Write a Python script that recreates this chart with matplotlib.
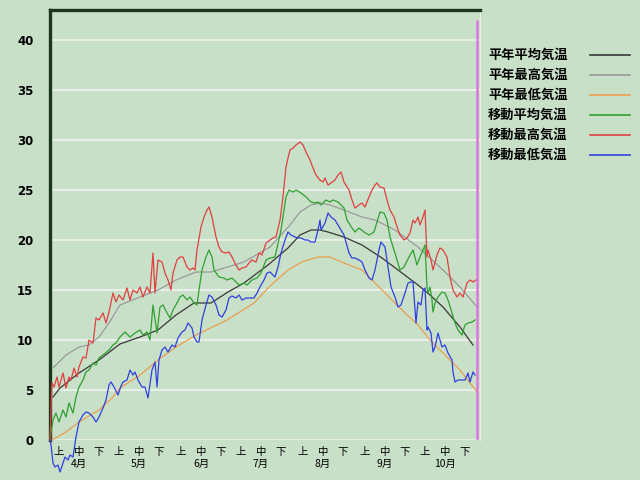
import matplotlib
matplotlib.use('Agg')
import matplotlib.pyplot as plt
from matplotlib.lines import Line2D

plt.rcParams['font.family'] = ['Noto Sans CJK JP', 'DejaVu Sans']

# day 0 = 4/1
months = [4, 5, 6, 7, 8, 9, 10]
month_start = [0, 30, 61, 91, 122, 153, 183]
today = 213.5

# 平年値
avg_days = [1.5, 5, 14.5, 24.5, 35, 45, 54, 63, 72, 80.5, 89, 97, 109, 119, 125, 130.5,
            135, 139, 147, 156, 166, 176, 184, 190, 196.5, 205, 211.5]
avg_vals = [4.3, 5.2, 6.7, 8.0, 9.6, 10.3, 11.0, 12.5, 13.7, 13.7, 14.8, 15.7, 17.5, 19.2,
            20.5, 21.0, 21.0, 20.8, 20.3, 19.5, 18.2, 16.7, 15.5, 14.5, 13.3, 11.3, 9.5]

max_days = [1.5, 8, 14.5, 19.5, 24.5, 29.5, 35, 45, 54, 63, 73, 80.5, 97, 110, 120, 125,
            130.5, 135, 140, 147, 156, 162.5, 172.5, 184, 190, 196.5, 205, 213.5]
max_vals = [7.2, 8.5, 9.3, 9.5, 10.3, 11.7, 13.5, 14.3, 15.0, 16.0, 16.8, 16.8, 17.8, 19.3,
            21.5, 22.8, 23.5, 23.7, 23.5, 23.0, 22.3, 22.0, 21.0, 19.3, 18.2, 17.0, 15.3, 13.3]

min_days = [1, 8, 14.5, 24.5, 31.5, 35, 45, 54, 63, 73, 88.5, 102, 110, 119, 126, 134,
            140, 147, 156, 161, 167.5, 176, 184, 190, 196.5, 205, 213.5]
min_vals = [0.0, 0.8, 1.8, 3.0, 4.3, 5.2, 6.5, 8.0, 9.3, 10.5, 12.0, 13.7, 15.4, 17.0, 17.8,
            18.3, 18.3, 17.7, 17.0, 16.0, 14.7, 13.0, 11.5, 10.0, 8.7, 7.0, 4.8]

# 移動値
mavg_days = [0, 1.5, 3, 4.5, 6.5, 8, 9.5, 11.5, 13, 14.5, 16.5, 18, 19.5, 21.5, 23, 24.5,
             26.5, 29.5, 31.5, 33, 35, 37.5, 40, 42.5, 45, 46.5, 48.5, 50, 51.5, 53.5, 55,
             56.5, 58.5, 60, 61.5, 63.5, 65, 66.5, 68.5, 70, 72, 73.5, 74.5, 76, 78, 79.5,
             81, 82, 84.5, 87, 88.5, 91, 93, 94.5, 97, 98.5, 101, 103.5, 105.5, 108, 110,
             112.5, 115.5, 118, 119.5, 121.5, 123, 125.5, 128, 130.5, 132.5, 134, 135.5,
             138, 140, 141.5, 144, 145.5, 147, 148.5, 151, 152.5, 154.5, 157, 159.5, 162,
             163.5, 165, 167, 168.5, 170, 172, 173.5, 175, 177, 179.5, 181.5, 183.5, 185,
             186.5, 187.5, 188.5, 189, 190, 191, 191.5, 192.5, 194, 196, 197.5, 199, 201,
             202.5, 204, 206, 207.5, 209, 211, 212.5]
mavg_vals = [0, 2.0, 2.7, 1.8, 3.0, 2.3, 3.7, 2.7, 4.3, 5.3, 6.0, 6.8, 7.0, 7.7, 7.5, 8.2,
             8.5, 9.0, 9.5, 9.7, 10.3, 10.8, 10.3, 10.7, 11.0, 10.5, 10.8, 10.0, 13.5, 10.7,
             13.3, 13.5, 12.7, 12.2, 13.0, 13.7, 14.3, 14.5, 14.0, 14.3, 13.7, 13.5, 15.0,
             17.0, 18.3, 19.0, 18.3, 17.0, 16.3, 16.2, 16.0, 16.2, 15.8, 15.5, 15.7, 15.5,
             16.0, 16.2, 16.7, 18.0, 18.2, 18.3, 21.0, 24.3, 25.0, 24.8, 25.0, 24.7, 24.3,
             23.8, 23.7, 23.8, 23.5, 24.0, 23.8, 24.0, 23.8, 23.5, 23.2, 22.0, 21.2, 20.8,
             21.2, 20.8, 20.5, 20.8, 21.8, 22.8, 22.7, 22.0, 20.3, 19.0, 18.0, 17.0, 17.3,
             18.3, 19.0, 17.5, 18.3, 19.0, 19.5, 15.3, 14.7, 15.3, 14.0, 12.8, 13.7, 14.3,
             14.8, 14.7, 14.0, 12.7, 11.7, 11.0, 10.5, 11.5, 11.7, 11.8, 12.0]

mmax_days = [0, 1, 2, 3.5, 4.5, 6.5, 8, 9.5, 10.5, 12, 13.5, 14.5, 16.5, 18, 19.5, 21.5,
             23, 24.5, 26.5, 28, 29.5, 31.5, 33, 34.5, 36.5, 38.5, 40, 41.5, 43.5, 45, 46.5,
             48.5, 50, 51.5, 52.5, 54, 56, 57.5, 59, 60.5, 61.5, 63.5, 65, 66.5, 68.5, 70,
             71.5, 72.5, 73.5, 75.5, 77, 78.5, 79.5, 81, 83, 84.5, 86, 88, 89.5, 91, 93,
             94.5, 96, 98, 99.5, 101, 103, 104.5, 106, 108, 110, 111.5, 113, 115, 116.5,
             118, 119, 120, 121.5, 123, 125, 126.5, 128, 130, 131.5, 133, 135, 136.5, 137.5,
             139, 140.5, 142.5, 144, 145.5, 147, 149.5, 151, 152.5, 154.5, 156, 157.5,
             159.5, 161, 162.5, 163.5, 165, 167, 168.5, 170, 172, 173.5, 175, 177, 178.5,
             180, 181.5, 182.5, 184, 185, 186.5, 187.5, 188.5, 189, 190.5, 191.5, 193.5,
             195, 196.5, 198.5, 200, 201.5, 203.5, 205, 206.5, 208.5, 210, 211.5, 213]
mmax_vals = [0, 5.7, 5.3, 6.3, 5.3, 6.7, 5.2, 6.3, 6.0, 7.2, 6.3, 7.3, 8.3, 8.2, 10.0, 9.7,
             12.2, 12.0, 12.7, 11.7, 12.8, 14.7, 13.8, 14.5, 14.0, 15.2, 14.0, 15.0, 14.7,
             15.3, 14.3, 15.3, 14.7, 18.7, 14.7, 18.0, 17.8, 16.7, 16.0, 15.0, 16.7, 18.0,
             18.3, 18.3, 17.3, 17.0, 17.2, 17.0, 19.0, 21.3, 22.3, 23.0, 23.3, 22.3, 20.3,
             19.3, 18.8, 18.7, 18.8, 18.3, 17.5, 17.0, 17.2, 17.3, 17.7, 18.0, 17.8, 18.7,
             18.5, 19.7, 20.0, 20.2, 20.3, 22.0, 24.3, 27.3, 28.2, 29.0, 29.2, 29.5, 29.8,
             29.5, 28.8, 28.0, 27.2, 26.5, 26.0, 25.8, 26.2, 25.5, 25.7, 26.0, 26.5, 26.8,
             25.8, 25.0, 24.0, 23.2, 23.5, 23.7, 23.3, 24.3, 25.0, 25.5, 25.7, 25.3, 25.2,
             24.0, 23.0, 22.3, 21.3, 20.5, 20.0, 20.2, 20.7, 22.0, 21.7, 22.3, 21.5, 22.3,
             23.0, 18.3, 19.0, 18.0, 17.0, 18.5, 19.2, 19.0, 18.3, 16.3, 15.0, 14.3, 14.7,
             14.3, 15.7, 16.0, 15.8, 16.0]

mmin_days = [0, 0.5, 1.5, 2.5, 4, 5, 6.5, 7.5, 9, 10, 11.5, 13, 14.5, 16.5, 18, 19.5, 21.5,
             23, 24.5, 26.5, 28, 29.5, 30.5, 32, 34, 35.5, 36.5, 38.5, 40, 41.5, 42.5, 44,
             46, 47.5, 49, 51, 52.5, 53.5, 54.5, 56, 57.5, 59, 61, 62.5, 64, 66, 67.5, 69,
             71, 72, 73.5, 74.5, 76, 78, 79.5, 81, 83, 84.5, 86, 88, 89.5, 91, 93, 94.5, 96,
             98, 100.5, 102, 103.5, 105.5, 107, 108.5, 110, 112.5, 114, 115.5, 117.5, 119,
             120.5, 122.5, 124, 125.5, 127.5, 129, 130.5, 132.5, 134, 135, 135.5, 137.5,
             139, 140.5, 142.5, 144, 145.5, 147, 149.5, 151, 152.5, 154.5, 156, 157.5,
             159.5, 161, 162.5, 164.5, 165.5, 167.5, 169, 170.5, 172.5, 174, 175.5, 177.5,
             179, 180.5, 181.5, 183, 184, 185.5, 186.5, 187.5, 188.5, 189, 190.5, 191.5,
             192.5, 194, 196, 197.5, 199, 201, 201.5, 202.5, 204, 206, 207.5, 209, 210,
             211.5, 212.5]
mmin_vals = [0, -0.5, -2.3, -2.7, -2.5, -3.2, -2.3, -1.7, -2.0, -1.5, -1.7, 0.3, 1.8, 2.5,
             2.8, 2.7, 2.3, 1.8, 2.3, 3.2, 4.0, 5.5, 5.8, 5.3, 4.5, 5.4, 5.8, 6.0, 7.0, 6.5,
             6.8, 6.0, 5.3, 5.3, 4.2, 7.0, 7.8, 5.3, 8.0, 9.0, 9.3, 8.8, 9.5, 9.3, 10.2,
             10.8, 11.0, 11.7, 11.2, 10.3, 9.8, 9.8, 12.0, 13.5, 14.5, 14.3, 13.5, 12.5,
             12.3, 13.0, 14.2, 14.4, 14.2, 14.5, 14.0, 14.2, 14.2, 14.2, 14.7, 15.5, 16.0,
             16.7, 16.8, 16.3, 17.3, 18.7, 20.0, 20.8, 20.5, 20.3, 20.2, 20.2, 20.0, 20.0,
             19.8, 19.8, 21.0, 22.0, 21.0, 21.7, 22.7, 22.3, 22.0, 21.5, 21.0, 20.5, 18.7,
             18.2, 18.2, 18.0, 17.8, 17.0, 16.2, 16.0, 17.0, 19.0, 19.8, 19.3, 17.3, 15.3,
             14.3, 13.3, 13.5, 14.7, 15.7, 15.8, 15.8, 11.7, 13.8, 13.5, 15.0, 15.2, 11.0,
             11.3, 10.7, 8.8, 9.3, 10.7, 9.3, 9.5, 8.7, 8.0, 6.8, 5.8, 6.0, 6.0, 6.0, 6.7,
             5.8, 6.8, 6.5]

labels = ['平年平均気温', '平年最高気温', '平年最低気温', '移動平均気温', '移動最高気温', '移動最低気温']
colors = ['#383838', '#9a9a9a', '#e8a050', '#30a030', '#e04040', '#3040e0']
series = [(avg_days, avg_vals), (max_days, max_vals), (min_days, min_vals),
          (mavg_days, mavg_vals), (mmax_days, mmax_vals), (mmin_days, mmin_vals)]

bg = '#c8dfc8'
grid_c = '#e6f0e6'
dark = '#1c361c'

fig = plt.figure(figsize=(6.4, 4.8), dpi=100, facecolor=bg)
ax = fig.add_axes([50 / 640, 40 / 480, 430 / 640, 430 / 480], facecolor=bg)

for (d, v), c in zip(series, colors):
    ax.plot(d, v, color=c, lw=0.9, clip_on=False, zorder=3)

ax.vlines(today, 0, 42, color='#dc78dc', lw=1.8, zorder=4)

ax.set_xlim(0, 215)
ax.set_ylim(0, 43)
ax.set_yticks(range(0, 45, 5))
ax.yaxis.grid(True, color=grid_c, lw=1.6)
ax.set_axisbelow(True)

xt, xl = [], []
for m, s in zip(months, month_start):
    xt += [s + 4.5, s + 14.5, s + 24.5]
    xl += ['上', '中\n%d月' % m, '下']
ax.set_xticks(xt)
ax.set_xticklabels(xl, fontsize=7.5, va='top', linespacing=1.3)
ax.tick_params(axis='x', length=0, pad=5)
ax.tick_params(axis='y', length=0, pad=12)
for t in ax.get_yticklabels():
    t.set_fontweight('bold')
    t.set_fontsize(8.5)
    t.set_family('DejaVu Sans')

ax.spines['top'].set_color(dark)
ax.spines['top'].set_linewidth(2.4)
ax.spines['left'].set_color(dark)
ax.spines['left'].set_linewidth(2.4)
ax.spines['bottom'].set_visible(False)
ax.spines['right'].set_color(grid_c)
ax.spines['right'].set_linewidth(1)

# legend: label on the left, line on the right
for i, (lab, c) in enumerate(zip(labels, colors)):
    y = 1 - (55 + 20 * i) / 480
    fig.text(488 / 640, y, lab, fontsize=9.5, fontweight='bold', va='center', ha='left')
    fig.add_artist(Line2D([590 / 640, 630 / 640], [y, y], color=c, lw=1.2))

fig.savefig('out.png', dpi=100, facecolor=bg)
